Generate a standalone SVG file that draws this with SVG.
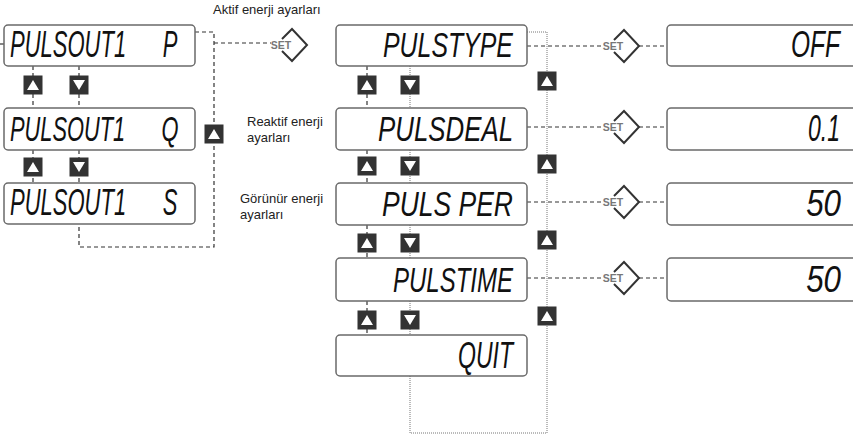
<svg xmlns="http://www.w3.org/2000/svg" xmlns:xlink="http://www.w3.org/1999/xlink" width="853" height="437" viewBox="0 0 853 437">
<style>
.box{fill:#fff;stroke:#6a6a6a;stroke-width:1.5}
.lcd{font-family:"Liberation Sans",Arial,sans-serif;font-style:italic;font-size:36px;fill:#111}
.val{text-anchor:end}
.lbl{font-family:"Liberation Sans",Arial,sans-serif;font-size:13px;fill:#222}
.dash{fill:none;stroke:#333;stroke-width:1.2;stroke-dasharray:4 3}
.dot{fill:none;stroke:#777;stroke-width:1;stroke-dasharray:1 1}
.setd{fill:none;stroke:#333;stroke-width:2;stroke-linejoin:miter}
.sett{font-family:"Liberation Sans",Arial,sans-serif;font-size:10.5px;font-weight:bold;fill:#777;text-anchor:middle}
</style>
<defs>
<g id="up"><rect x="-9.5" y="-9.5" width="19" height="19" fill="#333"/><polygon points="-6,5 6,5 0,-5" fill="#fff"/></g>
<g id="down"><rect x="-9.5" y="-9.5" width="19" height="19" fill="#333"/><polygon points="-6,-5 6,-5 0,5" fill="#fff"/></g>
<g id="set"><path class="setd" d="M-10,-6 L0,-16 L15,0 L0,16 L-10,6"/><text class="sett" x="-11" y="4">SET</text></g>
</defs>
<rect width="853" height="437" fill="#fff"/>

<g id="connectors">
<path class="dash" d="M0,44 H4"/>
<path class="dash" d="M33,66 V108 M79,66 V108 M33,150 V183 M79,150 V183"/>
<path class="dash" d="M195,32 H214 V247 H79 V224"/>
<path class="dash" d="M214,43 H271"/>
<path class="dash" d="M367,66 V108 M367,150 V183 M367,225 V258 M367,301 V335"/>
<path class="dot" d="M410,66 V108 M410,150 V183 M410,225 V258 M410,301 V335"/>
<path class="dot" d="M527,32 H547 V433 H410 V376"/>
<path class="dash" d="M527,46 H603 M639,46 H667"/>
<path class="dash" d="M527,127 H603 M639,127 H667"/>
<path class="dash" d="M527,202 H603 M639,202 H667"/>
<path class="dash" d="M527,278 H603 M639,278 H667"/>
</g>

<g id="buttons">
<use xlink:href="#up" x="33" y="85"/><use xlink:href="#down" x="79" y="85"/>
<use xlink:href="#up" x="33" y="167"/><use xlink:href="#down" x="79" y="167"/>
<use xlink:href="#up" x="214" y="134"/>
<use xlink:href="#up" x="367" y="85"/><use xlink:href="#down" x="410" y="85"/>
<use xlink:href="#up" x="367" y="166"/><use xlink:href="#down" x="410" y="166"/>
<use xlink:href="#up" x="367" y="243"/><use xlink:href="#down" x="410" y="243"/>
<use xlink:href="#up" x="367" y="320"/><use xlink:href="#down" x="410" y="320"/>
<use xlink:href="#up" x="547" y="81"/>
<use xlink:href="#up" x="547" y="164"/>
<use xlink:href="#up" x="547" y="240"/>
<use xlink:href="#up" x="547" y="316"/>
</g>

<g id="set-symbols">
<use xlink:href="#set" x="292" y="45"/>
<use xlink:href="#set" x="624" y="46"/>
<use xlink:href="#set" x="624" y="127"/>
<use xlink:href="#set" x="624" y="202"/>
<use xlink:href="#set" x="624" y="278"/>
</g>

<g id="labels">
<text class="lbl" x="213" y="14">Aktif enerji ayarları</text>
<text class="lbl"><tspan x="247" y="126">Reaktif enerji</tspan><tspan x="247" y="142">ayarları</tspan></text>
<text class="lbl"><tspan x="240" y="203">Görünür enerji</tspan><tspan x="240" y="219">ayarları</tspan></text>
</g>

<g id="pulsout-p"><rect class="box" x="4" y="25" width="191" height="41" rx="4"/><text class="lcd" xml:space="preserve" transform="translate(10,57) scale(0.611,1)">PULSOUT1      P</text></g>
<g id="pulsout-q"><rect class="box" x="4" y="108" width="191" height="42" rx="4"/><text class="lcd" xml:space="preserve" transform="translate(10,141) scale(0.606,1)">PULSOUT1      Q</text></g>
<g id="pulsout-s"><rect class="box" x="4" y="183" width="191" height="41" rx="4"/><text class="lcd" xml:space="preserve" transform="translate(10,215) scale(0.611,1)">PULSOUT1      S</text></g>

<g id="pulstype"><rect class="box" x="336" y="25" width="191" height="41" rx="4"/><text class="lcd" transform="translate(383,57) scale(0.691,1)">PULSTYPE</text></g>
<g id="pulsdeal"><rect class="box" x="336" y="108" width="191" height="42" rx="4"/><text class="lcd" transform="translate(378,141) scale(0.718,1)">PULSDEAL</text></g>
<g id="pulsper"><rect class="box" x="336" y="183" width="191" height="42" rx="4"/><text class="lcd" transform="translate(382,216) scale(0.736,1)">PULS PER</text></g>
<g id="pulstime"><rect class="box" x="336" y="258" width="191" height="43" rx="4"/><text class="lcd" transform="translate(393,292) scale(0.667,1)">PULSTIME</text></g>
<g id="quit"><rect class="box" x="336" y="335" width="191" height="41" rx="4"/><text class="lcd" transform="translate(458,368) scale(0.64,1)">QUIT</text></g>

<g id="val-off"><rect class="box" x="667" y="25" width="200" height="41" rx="4"/><text class="lcd val" transform="translate(840,57) scale(0.68,1)">OFF</text></g>
<g id="val-01"><rect class="box" x="667" y="108" width="200" height="42" rx="4"/><text class="lcd val" transform="translate(840,141) scale(0.64,1)">0.1</text></g>
<g id="val-50a"><rect class="box" x="667" y="183" width="200" height="42" rx="4"/><text class="lcd val" transform="translate(841,216) scale(0.87,1)">50</text></g>
<g id="val-50b"><rect class="box" x="667" y="258" width="200" height="43" rx="4"/><text class="lcd val" transform="translate(841,292) scale(0.87,1)">50</text></g>
</svg>
